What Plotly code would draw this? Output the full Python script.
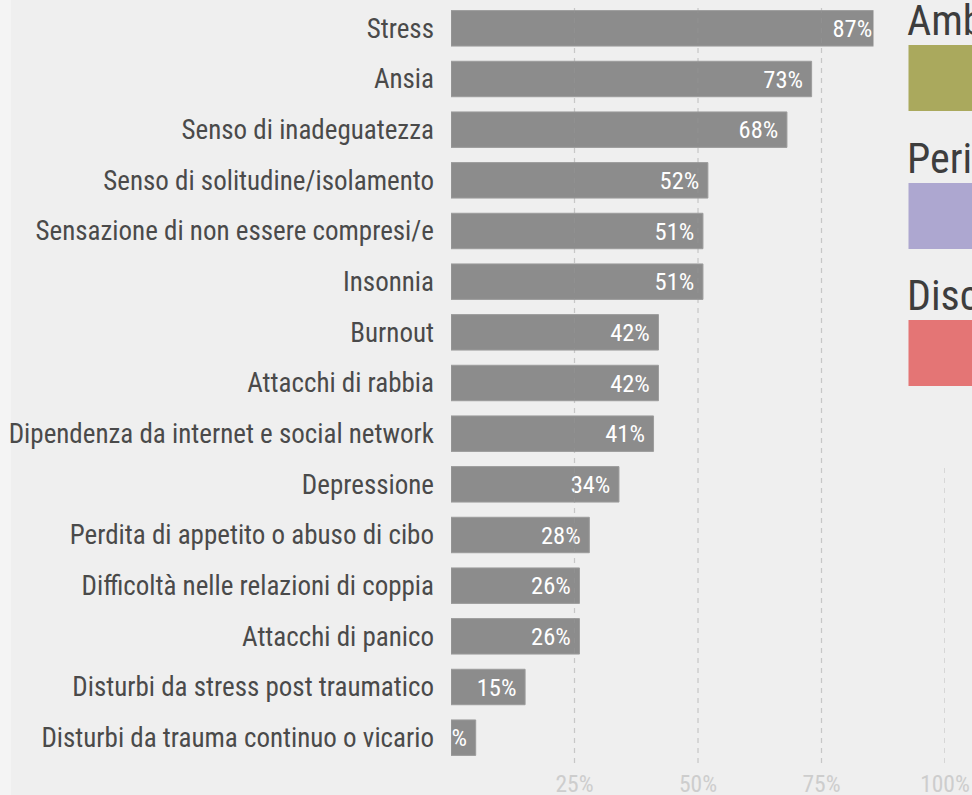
import plotly.graph_objects as go

categories = [
    "Stress", "Ansia", "Senso di inadeguatezza", "Senso di solitudine/isolamento",
    "Sensazione di non essere compresi/e", "Insonnia", "Burnout", "Attacchi di rabbia",
    "Dipendenza da internet e social network", "Depressione",
    "Perdita di appetito o abuso di cibo", "Difficoltà nelle relazioni di coppia",
    "Attacchi di panico", "Disturbi da stress post traumatico",
    "Disturbi da trauma continuo o vicario",
]
values = [87, 73, 68, 52, 51, 51, 42, 42, 41, 34, 28, 26, 26, 15, 5]

tick_vals = [25, 50, 75, 100]
tick_text = ["25%", "50%", "75%", "100%"]

legend_labels = ["Ambito", "Periodo", "Discipline"]
legend_colors = ["#aaa95d", "#ada7d0", "#e47575"]

W, H = 972, 795
ML, MR, MT, MB = 451, 27, 3, 32
PW = W - ML - MR
PH = H - MT - MB

FONT = "Roboto Condensed, Liberation Sans Narrow, DejaVu Sans Condensed, Roboto, sans-serif"
BG = "#efefef"

def px_x(p):
    return (p - ML) / PW

def px_y(p):
    return 1 - (p - MT) / PH

fig = go.Figure()
fig.add_trace(go.Bar(
    x=values, y=categories, orientation="h",
    marker=dict(color="#8c8c8c", line=dict(color="#9c9c9c", width=1)),
    text=[f"{v}%\u00a0" for v in values],
    textposition="inside", insidetextanchor="end", constraintext="none",
    textangle=0,
    textfont=dict(color="white", size=24.5, family=FONT),
    hoverinfo="skip",
))

shapes = []
# outer lighter strip
shapes.append(dict(type="rect", xref="paper", yref="paper", layer="below",
                   x0=px_x(-2), x1=px_x(11), y0=px_y(H + 2), y1=px_y(-2),
                   fillcolor="#f4f4f4", line=dict(width=0)))
# gridlines above bars
for tv in tick_vals:
    shapes.append(dict(type="line", xref="x", yref="paper", layer="above",
                       x0=tv, x1=tv, y0=0, y1=1,
                       line=dict(color="rgba(150,150,150,0.45)", width=1.2, dash="5px,5px")))
# legend panel covering right top
shapes.append(dict(type="rect", xref="paper", yref="paper", layer="above",
                   x0=px_x(873.5), x1=px_x(W + 20), y0=px_y(465), y1=px_y(-5),
                   fillcolor=BG, line=dict(width=0)))
legend_top = [45, 183, 320]
annotations = []
for i, (lab, col) in enumerate(zip(legend_labels, legend_colors)):
    y0 = legend_top[i]
    shapes.append(dict(type="rect", xref="paper", yref="paper", layer="above",
                       x0=px_x(908.5), x1=px_x(W + 20), y0=px_y(y0 + 66), y1=px_y(y0),
                       fillcolor=col, line=dict(width=0)))
    annotations.append(dict(xref="paper", yref="paper", x=px_x(905), y=px_y(y0 - 25),
                            text=lab, showarrow=False, xanchor="left", yanchor="middle",
                            font=dict(size=42, color="#3d3d3d", family=FONT)))

fig.update_layout(
    width=W, height=H,
    margin=dict(l=ML, r=MR, t=MT, b=MB, autoexpand=False),
    paper_bgcolor=BG, plot_bgcolor=BG,
    bargap=0.3, showlegend=False,
    shapes=shapes, annotations=annotations,
    xaxis=dict(range=[0, 100], tickvals=tick_vals, ticktext=tick_text,
               showgrid=False, zeroline=False, showline=False,
               ticklabelstandoff=4,
               tickfont=dict(size=23.5, color="#cdcdcd", family=FONT)),
    yaxis=dict(categoryorder="array", categoryarray=categories[::-1],
               autorange=True, showgrid=False, zeroline=False, showline=False,
               ticklabelstandoff=16, automargin=False,
               tickfont=dict(size=27, color="#4a4a4a", family=FONT)),
)

fig.write_html(
    "out.html",
    config={"displayModeBar": False},
    post_script="document.body.style.margin='0px';document.body.style.padding='0px';"
                "document.documentElement.style.background='#f4f4f4';",
)
